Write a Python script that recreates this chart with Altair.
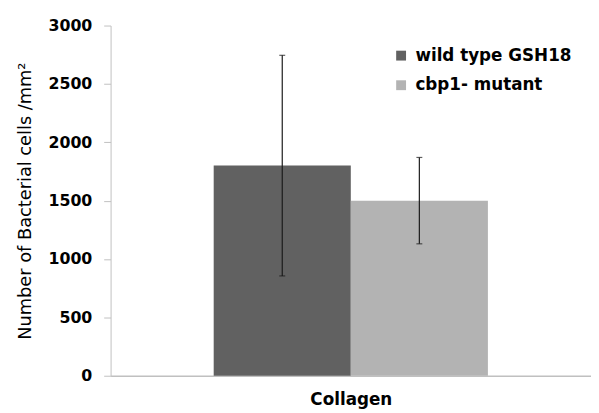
import altair as alt
import pandas as pd

series = ["wild type GSH18", "cbp1- mutant"]
means = [1800, 1500]
err_low = [855, 1130]
err_high = [2745, 1870]
colors = ["#616161", "#b3b3b3"]

df = pd.DataFrame({"series": series, "mean": means, "lo": err_low, "hi": err_high})

FONT = "DejaVu Sans"

x = alt.X(
    "series:N",
    sort=series,
    scale=alt.Scale(domain=series, paddingInner=0, paddingOuter=0.752),
    axis=alt.Axis(
        title="Collagen", labels=False, ticks=False, domainColor="#c0c0c0",
        domainWidth=1.5, titleFont=FONT, titleFontSize=17, titleFontWeight="bold",
        titleColor="#000000", titlePadding=16,
    ),
)

bars = alt.Chart(df).mark_bar().encode(
    x=x,
    y=alt.Y(
        "mean:Q",
        scale=alt.Scale(domain=[0, 3000]),
        axis=alt.Axis(
            title="Number of Bacterial cells /mm²", values=[0, 500, 1000, 1500, 2000, 2500, 3000],
            format="d",
            grid=False, domainColor="#c0c0c0", tickColor="#c0c0c0", tickSize=7,
            labelFont=FONT, labelFontSize=16, labelFontWeight="bold", labelColor="#000000",
            labelPadding=12, titleFont=FONT, titleFontSize=18, titleFontWeight="normal",
            titleColor="#000000", titlePadding=14,
        ),
    ),
    color=alt.Color(
        "series:N",
        sort=series,
        scale=alt.Scale(domain=series, range=colors),
        legend=alt.Legend(
            title=None, orient="none", legendX=286, legendY=22, symbolType="square",
            symbolSize=100, symbolStrokeWidth=0, labelFont=FONT, labelFontSize=17,
            labelFontWeight="bold", labelColor="#000000", rowPadding=12, labelOffset=6,
            padding=0,
        ),
    ),
)

rules = alt.Chart(df).mark_rule(color="#1a1a1a", strokeWidth=1.2).encode(
    x=alt.X("series:N", sort=series), y="lo:Q", y2="hi:Q"
)
cap_lo = alt.Chart(df).mark_tick(color="#1a1a1a", thickness=1.2, size=6).encode(
    x=alt.X("series:N", sort=series), y="lo:Q"
)
cap_hi = alt.Chart(df).mark_tick(color="#1a1a1a", thickness=1.2, size=6).encode(
    x=alt.X("series:N", sort=series), y="hi:Q"
)

chart = (
    alt.layer(bars, rules, cap_lo, cap_hi)
    .properties(
        width=487, height=355,
        autosize=alt.AutoSizeParams(type="none"),
        padding={"left": 104, "top": 15, "right": 0, "bottom": 35},
    )
    .configure_view(stroke=None)
)

chart.save("out.html", embed_options={"renderer": "svg", "actions": False})
